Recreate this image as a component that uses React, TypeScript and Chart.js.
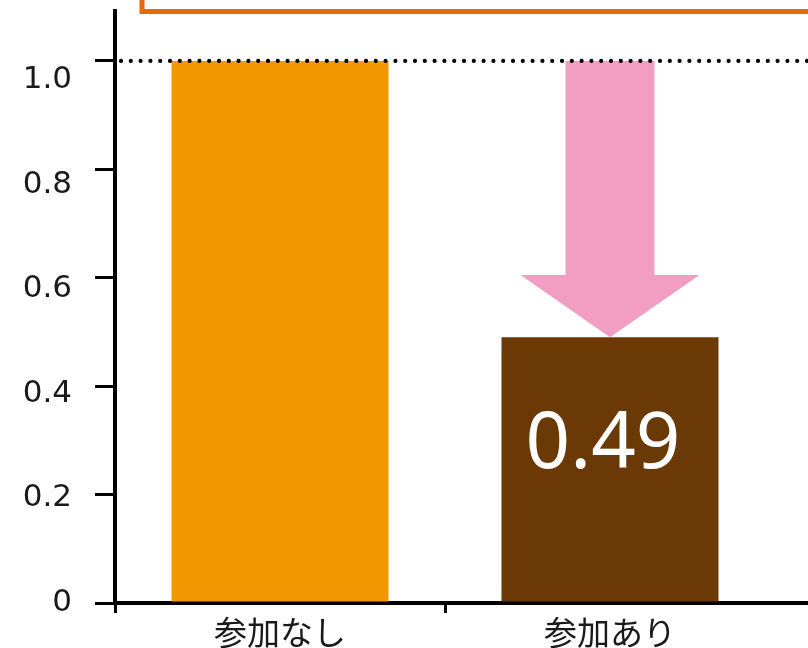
import React, { useEffect, useRef } from 'react';
import { Chart, registerables } from 'chart.js';
Chart.register(...registerables);

const categories = ['参加なし', '参加あり', ''];
const values: (number | null)[] = [1.0, 0.49, null];
const barColors = ['#F39800', '#6A3906', '#6A3906'];
const referenceValue = 1.0;
const highlightLabel = '0.49';
const arrowFrom = 1.0;
const arrowHeadBase = 0.605;
const arrowTo = 0.49;
const labelValue = 0.29;

const overlay = {
  id: 'overlay',
  afterDatasetsDraw(chart: any) {
    const ctx = chart.ctx;
    const y = chart.scales.y;
    const bar = chart.getDatasetMeta(0).data[1];
    const cx = bar.x;
    const yTop = y.getPixelForValue(arrowFrom);
    const yBase = y.getPixelForValue(arrowHeadBase);
    const yTip = y.getPixelForValue(arrowTo);
    const shaftHalf = 44.5;
    const headHalf = 89.5;
    ctx.save();
    ctx.fillStyle = '#F19EC2';
    ctx.beginPath();
    ctx.moveTo(cx - shaftHalf, yTop);
    ctx.lineTo(cx + shaftHalf, yTop);
    ctx.lineTo(cx + shaftHalf, yBase);
    ctx.lineTo(cx + headHalf, yBase);
    ctx.lineTo(cx, yTip);
    ctx.lineTo(cx - headHalf, yBase);
    ctx.lineTo(cx - shaftHalf, yBase);
    ctx.closePath();
    ctx.fill();

    const yRef = y.getPixelForValue(referenceValue);
    ctx.strokeStyle = '#000';
    ctx.lineWidth = 4.2;
    ctx.lineCap = 'round';
    ctx.setLineDash([0, 9.8]);
    ctx.beginPath();
    ctx.moveTo(chart.chartArea.left + 6, yRef);
    ctx.lineTo(chart.width, yRef);
    ctx.stroke();
    ctx.setLineDash([]);

    ctx.fillStyle = '#ffffff';
    ctx.font = '400 78px "Noto Sans"';
    ctx.textAlign = 'center';
    ctx.textBaseline = 'middle';
    ctx.fillText(highlightLabel, cx - 7, y.getPixelForValue(labelValue));

    ctx.strokeStyle = '#E26B0A';
    ctx.lineWidth = 5;
    ctx.strokeRect(142, -40, 1200, 51.5);
    ctx.restore();
  },
};

export default function App() {
  const ref = useRef<HTMLCanvasElement>(null);
  useEffect(() => {
    const chart = new Chart(ref.current as HTMLCanvasElement, {
      type: 'bar',
      data: {
        labels: categories,
        datasets: [
          {
            data: values,
            xAxisID: 'x',
            yAxisID: 'y',
            backgroundColor: barColors,
            borderWidth: 0,
            categoryPercentage: 1,
            barPercentage: 217 / 330,
          },
        ],
      },
      options: {
        responsive: false,
        animation: false,
        devicePixelRatio: 1,
        layout: { padding: { top: 11, left: 0, right: 0, bottom: 0 } },
        plugins: { legend: { display: false }, tooltip: { enabled: false } },
        scales: {
          x: {
            type: 'category',
            offset: true,
            border: { display: true, color: '#000', width: 4 },
            grid: {
              offset: true,
              drawOnChartArea: false,
              drawTicks: true,
              tickLength: 10,
              lineWidth: 3,
              color: (c: any) => (c.index <= 1 ? '#000' : 'rgba(0,0,0,0)'),
            },
            ticks: {
              font: { family: '"Noto Sans CJK JP"', size: 33 },
              color: '#1a1a1a',
              padding: 0,
              maxRotation: 0,
              autoSkip: false,
            },
            afterFit: (s: any) => {
              s.height = 45;
              s.paddingLeft = 0;
              s.paddingRight = 0;
            },
          },
          yl: {
            type: 'linear',
            position: 'left',
            weight: 1,
            min: 0,
            max: 1.132,
            border: { display: false },
            grid: { display: false, drawTicks: false },
            ticks: {
              stepSize: 0.2,
              includeBounds: false,
              font: { family: '"DejaVu Sans"', size: 31 },
              color: '#1a1a1a',
              padding: 23,
              callback: (v: any) => {
                const n = Number(v);
                if (n > 1.0001) return '';
                return n === 0 ? '0' : n.toFixed(1);
              },
            },
            afterFit: (s: any) => {
              s.width = 95;
              s.paddingTop = 0;
              s.paddingBottom = 0;
            },
          },
          y: {
            type: 'linear',
            position: 'left',
            weight: 0,
            min: 0,
            max: 1.092,
            border: { display: true, color: '#000', width: 4 },
            grid: {
              drawOnChartArea: false,
              drawTicks: true,
              tickLength: 20,
              lineWidth: 3,
              color: (c: any) => (c.tick && c.tick.value <= 1.0001 ? '#000' : 'rgba(0,0,0,0)'),
            },
            ticks: { display: false, stepSize: 0.2, includeBounds: false },
            afterFit: (s: any) => {
              s.width = 20;
              s.paddingTop = 0;
              s.paddingBottom = 0;
            },
          },
        },
      },
      plugins: [overlay],
    } as any);
    return () => chart.destroy();
  }, []);
  return (
    <div
      style={{
        position: 'absolute',
        left: 0,
        top: 0,
        width: 808,
        height: 648,
        overflow: 'hidden',
        background: '#fff',
      }}
    >
      <canvas ref={ref} width={1105} height={648} style={{ display: 'block', width: 1105, height: 648 }} />
    </div>
  );
}
